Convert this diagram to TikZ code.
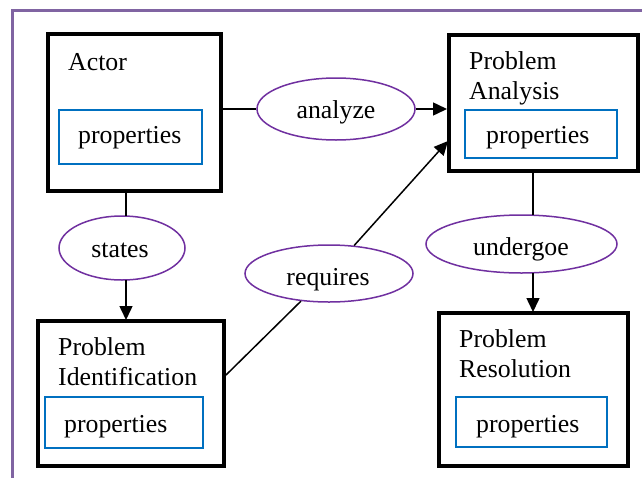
\documentclass[tikz,border=0pt]{standalone}
\usepackage{fontspec}
\setmainfont{Liberation Serif}
\usetikzlibrary{arrows.meta,shapes.geometric,calc}
\definecolor{framepurple}{HTML}{8064A2}
\definecolor{ellpurple}{HTML}{7030A0}
\definecolor{propblue}{HTML}{0070C0}
\tikzset{
  bigbox/.style={draw=black,line width=4pt,rectangle,inner sep=0pt},
  propbox/.style={draw=propblue,line width=1.5pt,rectangle,inner sep=0pt},
  relell/.style={draw=ellpurple,line width=1.5pt,ellipse,inner sep=0pt},
  lbl/.style={anchor=base west,inner sep=0pt,font=\fontsize{25.8}{30}\selectfont},
  elbl/.style={anchor=base,inner sep=0pt,font=\fontsize{25.8}{30}\selectfont},
  conn/.style={draw=black,line width=1.5pt},
  arr/.style={conn,-{Triangle[length=14pt,width=13pt]}}
}
\begin{document}
\begin{tikzpicture}[x=1pt,y=-1pt]
\useasboundingbox (0,0) rectangle (642,477);
\clip (0,0) rectangle (642,477);
\fill[white] (0,0) rectangle (642,477);
\draw[framepurple,line width=3pt] (12,10) rectangle (700,540);
% boxes
\node[bigbox,minimum width=173pt,minimum height=157pt] (actor) at (134.5,112.5) {};
\node[bigbox,minimum width=189pt,minimum height=136pt] (pa) at (543.5,103) {};
\node[bigbox,minimum width=186pt,minimum height=145pt] (pi) at (131,393.5) {};
\node[bigbox,minimum width=189pt,minimum height=153pt] (pr) at (533.5,389.5) {};
% property boxes
\node[propbox,minimum width=143pt,minimum height=54pt] (actorp) at (130.5,137) {};
\node[propbox,minimum width=152pt,minimum height=48pt] (pap) at (541,134) {};
\node[propbox,minimum width=158pt,minimum height=51pt] (pip) at (124,422.5) {};
\node[propbox,minimum width=151pt,minimum height=50pt] (prp) at (531.5,422) {};
% labels
\node[lbl] (actort) at (68,70) {Actor};
\node[lbl] (pat1) at (469,69) {Problem};
\node[lbl] (pat2) at (469,99) {Analysis};
\node[lbl] (pit1) at (58,355) {Problem};
\node[lbl] (pit2) at (58,385) {Identification};
\node[lbl] (prt1) at (459,347) {Problem};
\node[lbl] (prt2) at (459,377) {Resolution};
\node[lbl] (actorpt) at (78,143) {properties};
\node[lbl] (papt) at (486,143) {properties};
\node[lbl] (pipt) at (64,432) {properties};
\node[lbl] (prpt) at (476,432) {properties};
% relation ellipses
\node[relell,minimum width=158pt,minimum height=62pt] (analyze) at (336,109) {};
\node[relell,minimum width=126pt,minimum height=64pt] (states) at (122,248) {};
\node[relell,minimum width=168pt,minimum height=57pt] (requires) at (329,273.5) {};
\node[relell,minimum width=191pt,minimum height=58pt] (undergoe) at (521.5,244) {};
\node[elbl] (analyzet) at (336,118) {analyze};
\node[elbl] (statest) at (120,257) {states};
\node[elbl] (requirest) at (328,285) {requires};
\node[elbl] (undergoet) at (521,255) {undergoe};
% connectors
\coordinate (actorE) at (actor.east |- analyze.west);
\draw[conn] (actorE) -- (analyze.west);
\draw[arr] (analyze.east) -- (pa.west |- analyze.east);
\coordinate (actorS) at (126,190);
\coordinate (statesN) at (126,216);
\draw[conn] (actorS) -- (statesN);
\coordinate (statesS) at (126,280);
\coordinate (piN) at (126,320);
\draw[arr] (statesS) -- (piN);
\coordinate (piE) at (226,375);
\coordinate (paW) at (448,141);
\draw[conn] (piE) -- (requires);
\draw[arr] (requires) -- (paW);
\coordinate (paS) at (533,172);
\coordinate (undN) at (533,215);
\draw[conn] (paS) -- (undN);
\coordinate (undS) at (533,273);
\coordinate (prN) at (533,312);
\draw[arr] (undS) -- (prN);
\end{tikzpicture}
\end{document}
